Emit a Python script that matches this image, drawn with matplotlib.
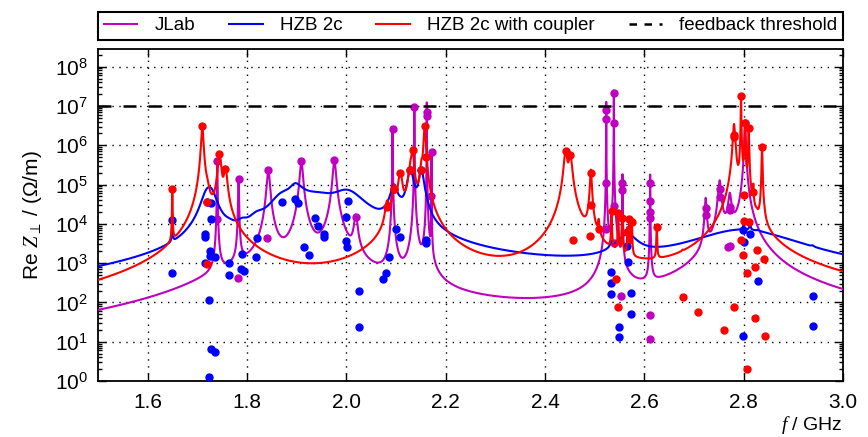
import numpy as np
import matplotlib
matplotlib.use("Agg")
import matplotlib.pyplot as plt
from matplotlib.ticker import LogLocator, NullFormatter, LogFormatterSciNotation, FixedLocator
from matplotlib.lines import Line2D

plt.rcParams['font.family'] = ['Liberation Sans', 'DejaVu Sans']
plt.rcParams['mathtext.fontset'] = 'custom'
plt.rcParams['mathtext.rm'] = 'Liberation Sans'
plt.rcParams['mathtext.it'] = 'Liberation Serif:italic'

# modes: frequency (GHz), peak Re Z (Ohm/m), quality factor
jlab_f = [1.740, 1.740, 1.783, 1.7816, 1.843, 1.840, 1.9095, 1.976, 2.019, 2.093, 2.137, 2.162, 2.162, 2.1716, 2.171,
          2.5233, 2.5233, 2.5233, 2.5233, 2.5386, 2.5386, 2.5386, 2.5386, 2.556, 2.556, 2.554,
          2.6117, 2.6117, 2.6117, 2.6117, 2.6117, 2.6117,
          2.7235, 2.7235, 2.7516, 2.7516, 2.772, 2.772, 2.768, 2.7727, 2.8027]
jlab_r = [4.0e5, 1.3e4, 1.4e5, 410, 2.4e5, 4.3e3, 4.0e5, 4.2e5, 1.5e4, 2.6e6, 9.2e6, 6.9e6, 5.4e6, 6.8e5, 5.2e4,
          7.9e6, 4.7e6, 1.1e5, 7.2e3, 2.1e7, 3.6e6, 2.8e4, 3.2e3, 1.1e5, 7.2e4, 150,
          1.07e5, 3.8e4, 1.95e4, 1.45e4, 48, 12,
          2.6e4, 1.7e4, 7.6e4, 4.7e4, 2.75e4, 2.2e4, 2.5e3, 2.75e3, 3.6e6]
jlab_q = [2500, 2500, 1500, 12, 350, 350, 350, 350, 300, 4000, 6000, 10000, 10000, 10000, 10000,
          12000, 12000, 12000, 12000, 12000, 12000, 12000, 12000, 5000, 5000, 3000,
          6000, 6000, 6000, 6000, 6000, 6000,
          800, 800, 500, 500, 500, 500, 70, 70, 1200]

hzb_f = [1.6496, 1.6496, 1.728, 1.7275, 1.716, 1.716, 1.7245, 1.726, 1.736, 1.716, 1.764, 1.763,
         1.790, 1.787, 1.794, 1.820, 1.818, 1.724, 1.7275, 1.736, 1.724, 1.720,
         1.870, 1.897, 1.903, 1.936, 1.942, 1.9545, 1.955, 1.9155, 1.924, 2.0027, 1.9987, 2.000, 2.001,
         2.0254, 2.0265,
         2.0863, 2.080, 2.074, 2.099, 2.1085, 2.0958, 2.129, 2.151, 2.161, 2.161,
         2.5675, 2.565, 2.5334, 2.5337, 2.5337, 2.5736, 2.5736, 2.548, 2.548,
         2.799, 2.8128, 2.800, 2.829, 2.9386, 2.9386, 2.7993]
hzb_r = [1.25e4, 560, 3.3e4, 1.3e4, 5.5e3, 4.5e3, 2.0e3, 1.55e3, 1.45e3, 980, 980, 500,
         1.66e3, 690, 630, 4.3e3, 1.4e3, 112, 6.5, 5.6, 1.3, 3.5e4,
         3.5e4, 4.2e4, 3.3e4, 1.45e4, 8.7e3, 5.5e3, 4.5e3, 2.6e3, 1.6e3, 3.9e4, 1.5e4, 3.7e3, 2.6e3,
         200, 24,
         1.45e3, 575, 390, 7.2e3, 4.7e3, 7.7e4, 2.4e5, 2.4e5, 3.9e3, 3.2e3,
         1.1e3, 2.7e3, 600, 316, 162, 178, 52, 23, 13,
         6.8e3, 5.6e3, 3.5e3, 350, 150, 25, 14]
hzb_q = [1500, 1500, 80, 80, 80, 80, 80, 80, 80, 80, 80, 80,
         100, 100, 100, 60, 60, 100, 100, 100, 100, 80,
         40, 80, 40, 30, 30, 30, 30, 30, 30, 30, 30, 30, 30,
         30, 30,
         200, 200, 200, 200, 200, 150, 200, 250, 300, 300,
         60, 60, 500, 500, 500, 500, 500, 500, 500,
         14, 1500, 1500, 500, 500, 500, 500]

cpl_f = [1.6496, 1.710, 1.7446, 1.7567, 1.720, 1.720,
         2.082, 2.0958, 2.1085, 2.129, 2.1334, 2.151, 2.1575, 2.1595,
         2.4415, 2.451, 2.4924, 2.4924, 2.4897, 2.4556, 2.508,
         2.534, 2.5474, 2.5555, 2.570, 2.5748, 2.566, 2.5434, 2.5474, 2.625,
         2.677, 2.7074, 2.761, 2.780,
         2.7947, 2.799, 2.8067, 2.826, 2.8415, 2.822, 2.8228, 2.843, 2.806,
         2.7947, 2.7806, 2.7806, 2.8027, 2.810, 2.837, 2.8194, 2.800, 2.800, 2.8113]
cpl_r = [7.6e4, 3.1e6, 6.0e5, 2.5e5, 3.5e4, 950,
         2.7e4, 7.7e4, 2.0e5, 2.4e5, 7.6e5, 2.4e5, 3.1e6, 5.1e5,
         7.0e5, 5.5e5, 2.0e5, 3.0e4, 4.9e3, 3.9e3, 7.2e3,
         2.1e4, 1.9e4, 1.4e4, 1.3e4, 1.1e4, 6.3e3, 390, 78, 8.1e3,
         135, 56, 20, 75,
         3.9e3, 1.6e3, 550, 2.1e3, 1.26e3, 780, 40, 14, 2,
         1.8e7, 1.8e6, 1.66e6, 3.6e6, 2.8e6, 9.1e5, 6.6e4, 5.4e4, 1.15e4, 1.1e4]
cpl_q = [2000, 450, 300, 300, 300, 300,
         300, 300, 300, 300, 500, 500, 700, 700,
         400, 400, 800, 800, 300, 300, 800,
         2000, 2000, 2000, 2000, 2000, 2000, 2000, 2000, 2000,
         1000, 1000, 1000, 1000,
         1000, 1000, 1000, 1000, 1000, 1000, 1000, 1000, 1000,
         3000, 700, 700, 2000, 2000, 2000, 2000, 2000, 2000, 2000]

threshold = 1e7
xticks = [1.6, 1.8, 2.0, 2.2, 2.4, 2.6, 2.8, 3.0]


def re_z(f, fr, r, q):
    # sum of resonator responses
    z = np.zeros_like(f)
    for a, b, c in zip(fr, r, q):
        z += b / (1 + c ** 2 * (f / a - a / f) ** 2)
    return z


freq = np.union1d(np.linspace(1.5, 3.0, 60001), jlab_f + hzb_f + cpl_f)

fig = plt.figure(figsize=(8.68, 4.37), dpi=100)
ax = fig.add_axes([98 / 868, 1 - 381 / 437, (843 - 98) / 868, (381 - 49) / 437])

series = [
    (jlab_f, jlab_r, jlab_q, '#bf00bf', 'JLab'),
    (hzb_f, hzb_r, hzb_q, '#0000ff', 'HZB 2c'),
    (cpl_f, cpl_r, cpl_q, '#ff0000', 'HZB 2c with coupler'),
]
handles = []
for fr, r, q, col, name in series:
    ax.plot(freq, re_z(freq, fr, r, q), color=col, lw=1.5, zorder=3)
    ax.plot(fr, r, 'o', color=col, ms=5, mec=col, zorder=3)
    handles.append(Line2D([], [], color=col, lw=1.5, label=name))

ax.axhline(threshold, color='black', lw=1.8, ls=(0, (5.2, 4.8)), zorder=4)
handles.append(Line2D([], [], color='black', lw=1.8, ls=(0, (3, 3)), label='feedback threshold'))

ax.set_yscale('log')
ax.set_xlim(1.5, 3.0)
ax.set_ylim(1, 10 ** 8.45)
ax.xaxis.set_major_locator(FixedLocator(xticks))
ax.set_xticklabels(['%.1f' % t for t in xticks])
ax.yaxis.set_major_locator(LogLocator(base=10, numticks=20))
ax.yaxis.set_minor_locator(LogLocator(base=10, subs=np.arange(2, 10), numticks=20))
ax.yaxis.set_minor_formatter(NullFormatter())
ax.yaxis.set_major_formatter(LogFormatterSciNotation())

ax.grid(True, which='major', color='black', ls=(0, (1, 4)), lw=1)
ax.tick_params(which='both', direction='in', top=True, right=True, width=1, labelsize=15)
ax.tick_params(which='major', length=6)
ax.tick_params(axis='x', pad=9)
ax.tick_params(axis='y', pad=7)
ax.tick_params(which='minor', length=3)
for s in ax.spines.values():
    s.set_linewidth(1.3)

ax.set_ylabel(r'Re $Z_\perp$ / ($\Omega$/m)', fontsize=15, labelpad=8)
ax.set_xlabel(r'$f$ / GHz', fontsize=14, loc='right', labelpad=1)

leg = ax.legend(handles=handles, loc='lower left', bbox_to_anchor=(0, 1.027, 1, 0.105),
                mode='expand', ncol=4, borderaxespad=0, fancybox=False, edgecolor='black',
                framealpha=1, handlelength=1.8, fontsize=13.5, borderpad=0.3, handletextpad=0.9,
                columnspacing=1.0)
leg.get_frame().set_linewidth(1.5)

fig.savefig('out.png', dpi=100)
